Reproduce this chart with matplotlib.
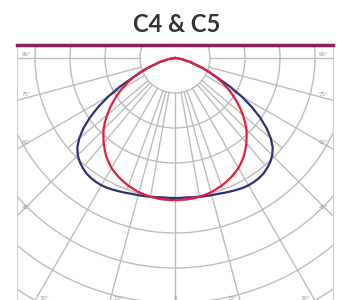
import numpy as np
import matplotlib.pyplot as plt
from matplotlib.patches import Circle

angulos = [0, 2.5, 5, 7.5, 10, 12.5, 15, 17.5, 20, 22.5, 25, 27.5, 30, 32.5, 35, 37.5,
           40, 42.5, 45, 47.5, 50, 52.5, 55, 57.5, 60, 62.5, 65, 67.5, 70, 75, 80, 85, 90]
curva_azul = [140, 140, 140, 140.5, 141, 141.5, 142, 142.5, 143.5, 144.5, 145.5, 146.5, 147, 147, 146.5, 145.5,
              143.5, 141, 137.5, 132.5, 125, 115.5, 104, 91, 77, 62, 47, 37, 29, 16, 7, 2, 0]
curva_roja = [142, 142, 142, 141.5, 141, 140, 139, 137.5, 136, 134, 132, 129.5, 127, 123.5, 120, 115.5,
              111, 106, 101, 95, 88.5, 82, 75, 68, 61, 53.5, 46, 38, 30, 16, 7, 2, 0]

titulo = "C4 & C5"
etiquetas_lado = ["90°", "75°", "60°", "45°"]
angulos_lado = [90, 75, 60, 45]
etiquetas_abajo = ["30°", "15°", "0", "15°", "30°"]
angulos_abajo = [-30, -15, 0, 15, 30]

paso_anillo = 35
gris = "#bdbdbd"


def a_xy(ang, r):
    """pasa angulo desde el nadir + intensidad a coordenadas x, y (simetrico)"""
    ang = np.radians(np.concatenate([-np.array(ang[::-1]), np.array(ang[1:])]))
    r = np.concatenate([np.array(r[::-1]), np.array(r[1:])])
    return r * np.sin(ang), -r * np.cos(ang)


fig = plt.figure(figsize=(3.45, 3.0), dpi=100)
ax = fig.add_axes([17 / 345, 0, 316 / 345, 255 / 300])
ax.set_xlim(-158, 158)
ax.set_ylim(-242, 13)

# anillos
for k in range(1, 10):
    ax.add_patch(Circle((0, 0), k * paso_anillo, fill=False, ec=gris, lw=1.0))

# lineas radiales cada 15 grados
for a in range(-90, 91, 15):
    t = np.radians(a)
    ax.plot([paso_anillo * np.sin(t), 400 * np.sin(t)],
            [-paso_anillo * np.cos(t), -400 * np.cos(t)], color=gris, lw=1.0)

# lineas cortas cada 10 grados cerca del centro
for a in [-50, -40, -20, -10, 10, 20, 40, 50]:
    t = np.radians(a)
    ax.plot([paso_anillo * np.sin(t), 4 * paso_anillo * np.sin(t)],
            [-paso_anillo * np.cos(t), -4 * paso_anillo * np.cos(t)], color=gris, lw=1.0)

# curvas
xa, ya = a_xy(angulos, curva_azul)
ax.plot(xa, ya, color="#2d2f7c", lw=1.6)
xr, yr = a_xy(angulos, curva_roja)
ax.plot(xr, yr, color="#e3213d", lw=1.6)

# etiquetas de angulos
for et, a in zip(etiquetas_lado, angulos_lado):
    y = -153 / np.tan(np.radians(a)) if a != 90 else 0
    ax.text(-153, y + 4, et, fontsize=4, color="#999999", ha="left", va="center")
    ax.text(153, y + 4, et, fontsize=4, color="#999999", ha="right", va="center")
for et, a in zip(etiquetas_abajo, angulos_abajo):
    x = 236 * np.tan(np.radians(a))
    ax.text(x - np.sign(a) * 6, -240, et, fontsize=4, color="#999999", ha="center", va="center")

ax.set_xticks([])
ax.set_yticks([])
ax.spines["bottom"].set_visible(False)
ax.spines["left"].set_color("#cfcfcf")
ax.spines["right"].set_color("#cfcfcf")
ax.spines["top"].set_color("#8e1f58")
ax.spines["top"].set_linewidth(2.5)

fig.text(177 / 345, 1 - 24 / 300, titulo, ha="center", va="center",
         fontsize=17, fontweight="bold", family="Lato", color="#333333")

fig.savefig("out.png", dpi=100)
